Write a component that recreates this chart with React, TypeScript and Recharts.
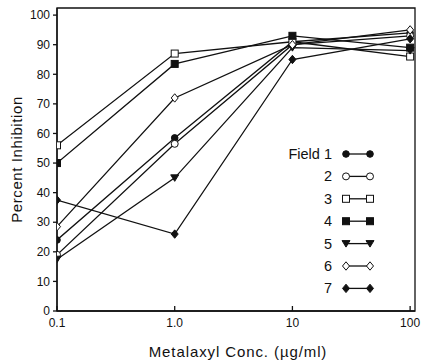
import React from "react";
import {
  LineChart,
  Line,
  XAxis,
  YAxis,
  ReferenceArea,
  Legend,
} from "recharts";

// ── Data ───────────────────────────────────────────────────────────────────

const concentrations = [0.1, 1, 10, 100];
const xTicks = [0.1, 1, 10, 100];
const xTickLabels = ["0.1", "1.0", "10", "100"];
const yTicks = [0, 10, 20, 30, 40, 50, 60, 70, 80, 90, 100];

const field1 = [24, 58.5, 91, 94];
const field2 = [19, 56.5, 90, 93];
const field3 = [56, 87, 91, 86];
const field4 = [50, 83.5, 93, 89];
const field5 = [17.5, 45, 89, 88];
const field6 = [28.5, 72, 90, 95];
const field7 = [37.5, 26, 85, 92];

const fieldNames = ["Field 1", "2", "3", "4", "5", "6", "7"];
const fieldKeys = ["f1", "f2", "f3", "f4", "f5", "f6", "f7"];
const fieldSeries = [field1, field2, field3, field4, field5, field6, field7];

type Shape = "circle" | "square" | "triangle" | "diamond";
const fieldShapes: { shape: Shape; filled: boolean }[] = [
  { shape: "circle", filled: true },
  { shape: "circle", filled: false },
  { shape: "square", filled: false },
  { shape: "square", filled: true },
  { shape: "triangle", filled: true },
  { shape: "diamond", filled: false },
  { shape: "diamond", filled: true },
];

const data = concentrations.map((c, i) => {
  const row: Record<string, number> = { conc: c };
  fieldKeys.forEach((k, j) => {
    row[k] = fieldSeries[j][i];
  });
  return row;
});

// ── Markers ────────────────────────────────────────────────────────────────

const INK = "#111";
const FONT = "'Liberation Sans', Arial, Helvetica, sans-serif";

function Marker({ x, y, shape, filled }: { x: number; y: number; shape: Shape; filled: boolean }) {
  const fill = filled ? INK : "#fff";
  const sw = 1;
  if (shape === "circle") {
    return <circle cx={x} cy={y} r={filled ? 3.3 : 3.5} fill={fill} stroke={INK} strokeWidth={sw} />;
  }
  if (shape === "square") {
    return <rect x={x - 3.5} y={y - 3.5} width={7} height={7} fill={fill} stroke={INK} strokeWidth={sw} />;
  }
  if (shape === "triangle") {
    return (
      <polygon
        points={`${x - 4},${y - 3} ${x + 4},${y - 3} ${x},${y + 3.5}`}
        fill={fill}
        stroke={INK}
        strokeWidth={sw}
      />
    );
  }
  return (
    <polygon
      points={`${x},${y - 4.2} ${x + 3.5},${y} ${x},${y + 4.2} ${x - 3.5},${y}`}
      fill={fill}
      stroke={INK}
      strokeWidth={sw}
    />
  );
}

const makeDot = (shape: Shape, filled: boolean) => (props: any) => {
  const { cx, cy, index } = props;
  if (cx == null || cy == null) return <g key={index} />;
  return <Marker key={index} x={cx} y={cy} shape={shape} filled={filled} />;
};

// ── Legend ─────────────────────────────────────────────────────────────────

function FieldLegend() {
  const rowGap = 22.4;
  return (
    <svg width={120} height={165} style={{ overflow: "visible" }}>
      {fieldNames.map((name, i) => {
        const y = 10 + i * rowGap;
        const { shape, filled } = fieldShapes[i];
        return (
          <g key={name}>
            <text
              x={62}
              y={y}
              textAnchor="end"
              dominantBaseline="central"
              fontFamily={FONT}
              fontSize={14.5}
              fill={INK}
            >
              {name}
            </text>
            <line x1={76} x2={100} y1={y} y2={y} stroke={INK} strokeWidth={1.3} />
            <Marker x={76} y={y} shape={shape} filled={filled} />
            <Marker x={100} y={y} shape={shape} filled={filled} />
          </g>
        );
      })}
    </svg>
  );
}

// ── Chart ──────────────────────────────────────────────────────────────────

export default function App() {
  return (
    <div style={{ position: "absolute", left: 0, top: 0, background: "#fff" }}>
      <LineChart
        width={427}
        height={362}
        data={data}
        margin={{ top: 8, right: 12, left: 0, bottom: 0 }}
        style={{ fontFamily: FONT }}
      >
        <ReferenceArea
          x1={0.1}
          x2={110}
          y1={0}
          y2={102.4}
          fill="none"
          stroke={INK}
          strokeWidth={1.3}
          ifOverflow="visible"
        />
        <XAxis
          dataKey="conc"
          type="number"
          scale="log"
          domain={[0.1, 110]}
          allowDataOverflow
          ticks={xTicks}
          tickFormatter={(v: number) => xTickLabels[xTicks.indexOf(v)] ?? String(v)}
          height={51}
          tickSize={-5}
          tickMargin={12}
          stroke={INK}
          strokeWidth={1.3}
          tick={{ fontSize: 12, fill: INK }}
          label={{
            value: "Metalaxyl Conc.  (µg/ml)",
            position: "insideBottom",
            offset: 5,
            dx: 2,
            fill: INK,
            fontSize: 15,
            style: { whiteSpace: "pre", letterSpacing: 0.9 },
          }}
        />
        <YAxis
          type="number"
          domain={[0, 102.4]}
          ticks={yTicks}
          width={57}
          tickSize={4}
          tickMargin={3}
          stroke={INK}
          strokeWidth={1.3}
          tick={{ fontSize: 12, fill: INK }}
          label={{
            value: "Percent Inhibition",
            angle: -90,
            position: "insideLeft",
            offset: 17,
            fill: INK,
            fontSize: 15,
            style: { textAnchor: "middle", letterSpacing: 0.6 },
          }}
        />
        <Legend
          layout="horizontal"
          verticalAlign="middle"
          align="center"
          wrapperStyle={{ position: "absolute", left: 270, top: 144, width: 120, height: 165 }}
          content={() => <FieldLegend />}
        />
        {fieldKeys.map((k, i) => (
          <Line
            key={k}
            dataKey={k}
            name={fieldNames[i]}
            type="linear"
            stroke={INK}
            strokeWidth={1.3}
            dot={makeDot(fieldShapes[i].shape, fieldShapes[i].filled)}
            activeDot={false}
            isAnimationActive={false}
          />
        ))}
      </LineChart>
    </div>
  );
}
